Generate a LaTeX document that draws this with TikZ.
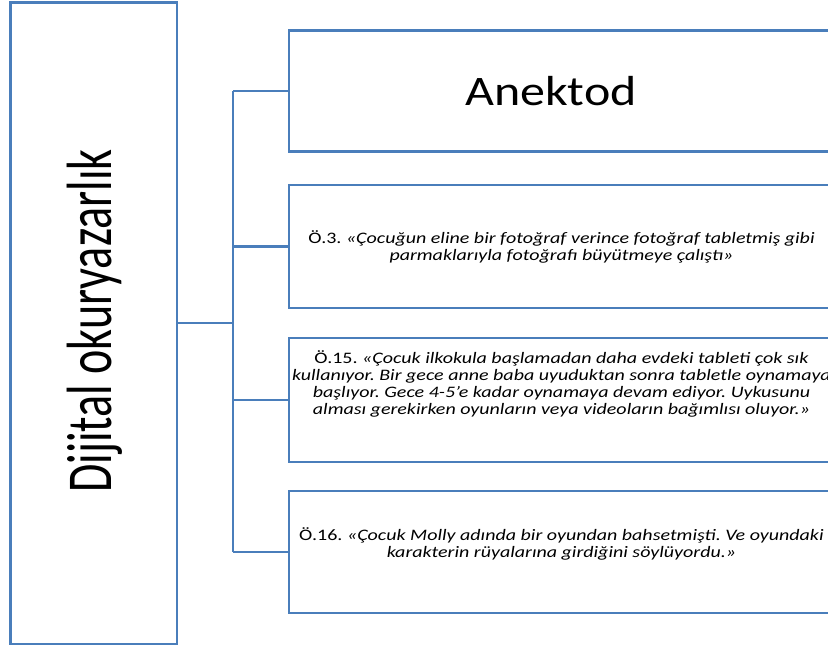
\documentclass[tikz,border=0pt]{standalone}
\usepackage{fontspec}
\setmainfont{Carlito}
\newfontfamily\widefont[FakeStretch=1.19]{Carlito}
\newfontfamily\quotefont[FakeStretch=1.25]{Carlito}
\newfontfamily\narrowfont[FakeStretch=0.72]{Carlito}
\usepackage{xcolor}
\usetikzlibrary{positioning}
\definecolor{okublue}{HTML}{4A7EBB}
\frenchspacing

\begin{document}
\begin{tikzpicture}[x=1pt, y=-1pt,
    box/.style={draw=okublue, line width=2.6pt, rectangle, inner sep=0pt},
    quote/.style={align=center, font=\quotefont\fontsize{16}{17}\selectfont},
    link/.style={draw=okublue, line width=2.6pt}
  ]
  \useasboundingbox (0,0) rectangle (828,650);
  \clip (0,0) rectangle (828,650);

  % main concept
  \node[box, minimum width=166.5pt, minimum height=641.5pt] (main) at (93.75,323.25) {};
  \node[rotate=90, font=\narrowfont\fontsize{64}{64}\selectfont] (title) at (95,321) {Dijital okuryazarlık};

  % branches
  \node[box, minimum width=551pt, minimum height=121pt] (anec) at (564.5,91) {};
  \node[font=\widefont\fontsize{42}{42}\selectfont] (anectext) at (551,91) {Anektod};
  \node[box, minimum width=551pt, minimum height=123pt] (q3) at (564.5,246.5) {};
  \node[quote] (q3text) at (561.5,247) {Ö.3. \textit{«Çocuğun eline bir fotoğraf verince fotoğraf tabletmiş gibi}\\
    \textit{parmaklarıyla fotoğrafı büyütmeye çalıştı»}};
  \node[box, minimum width=551pt, minimum height=124pt] (q15) at (564.5,400) {};
  \node[quote] (q15text) at (561.5,383.5) {Ö.15. \textit{«Çocuk ilkokula başlamadan daha evdeki tableti çok sık}\\
    \textit{kullanıyor. Bir gece anne baba uyuduktan sonra tabletle oynamaya}\\
    \textit{başlıyor. Gece 4-5’e kadar oynamaya devam ediyor. Uykusunu}\\
    \textit{alması gerekirken oyunların veya videoların bağımlısı oluyor.»}};
  \node[box, minimum width=551pt, minimum height=122pt] (q16) at (564.5,552) {};
  \node[quote] (q16text) at (561.5,543.5) {Ö.16. \textit{«Çocuk Molly adında bir oyundan bahsetmişti. Ve oyundaki}\\
    \textit{karakterin rüyalarına girdiğini söylüyordu.»}};

  % connectors
  \coordinate (trunk) at (233,323);
  \draw[link] (main.east |- trunk) -- (trunk);
  \draw[link] (trunk |- anec.west) -- (trunk |- q16.west);
  \draw[link] (trunk |- anec.west) -- (anec.west);
  \draw[link] (trunk |- q3.west) -- (q3.west);
  \draw[link] (trunk |- q15.west) -- (q15.west);
  \draw[link] (trunk |- q16.west) -- (q16.west);
\end{tikzpicture}
\end{document}
